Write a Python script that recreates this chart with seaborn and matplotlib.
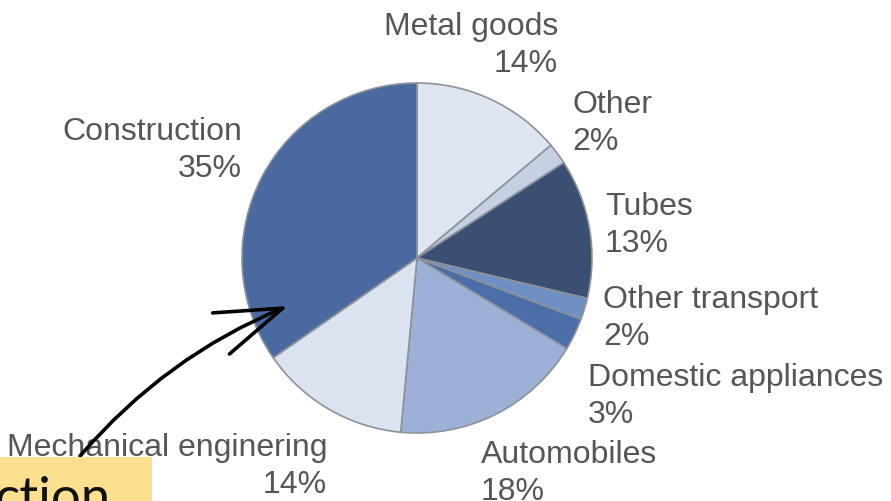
import matplotlib
matplotlib.use("Agg")
import matplotlib.pyplot as plt
import seaborn as sns
from matplotlib.patches import Rectangle

# ---------- data (clockwise from 12 o'clock) ----------
sectors = ["Metal goods", "Other", "Tubes", "Other transport",
           "Domestic appliances", "Automobiles", "Mechanical enginering",
           "Construction"]
shares = [14, 2, 13, 2, 3, 18, 14, 35]
slice_colors = ["#dfe5f0", "#c6d0e2", "#3b4f73", "#7090c4",
                "#4b6ea8", "#9db1d7", "#dce3f0", "#4a6a9f"]

sns.set_theme(style="white")
plt.rcParams["font.family"] = ["Liberation Sans", "DejaVu Sans"]

W, H = 891, 502
fig = plt.figure(figsize=(W / 100, H / 100), dpi=100)
ax = fig.add_axes([0, 0, 1, 1])

palette = sns.color_palette(slice_colors)
ax.pie(shares, colors=palette, startangle=90, counterclock=False,
       radius=1.0, wedgeprops=dict(edgecolor="#8c929c", linewidth=1.2))

# pie centre at pixel (417, 259), radius 175 px
cx, cy, r = 417, 259, 175
ax.set_xlim(-cx / r, (W - cx) / r)
ax.set_ylim(-(H - cy) / r, cy / r)
ax.axis("off")


def px(x, y):
    return (x - cx) / r, (cy - y) / r


# label anchors in pixels: (x, baseline of the % line, horizontal alignment)
label_layout = {
    "Metal goods": (558, 72, "right"),
    "Other": (572, 150, "left"),
    "Tubes": (605, 252, "left"),
    "Other transport": (603, 345, "left"),
    "Domestic appliances": (588, 423, "left"),
    "Automobiles": (481, 500, "left"),
    "Mechanical enginering": (327, 493, "right"),
    "Construction": (242, 177, "right"),
}

for name, val in zip(sectors, shares):
    x, y, ha = label_layout[name]
    tx, ty = px(x, y)
    ax.text(tx, ty, f"{name}\n{val}%", ha=ha, va="baseline",
            multialignment=ha, fontsize=23, color="#565656",
            linespacing=1.3)

# sticky note + hand drawn arrow
fig.patches.append(Rectangle((0, 0), 152 / W, (H - 458) / H,
                             transform=fig.transFigure,
                             facecolor="#fde08f", edgecolor="none", zorder=5))
fig.text(111 / W, (H - 514) / H, "ction", ha="right", va="baseline",
         fontsize=38, color="#111111", family=["Lato", "DejaVu Sans"],
         zorder=6)

ax.annotate("", xy=(288, H - 307), xycoords="figure pixels",
            xytext=(80, H - 457), textcoords="figure pixels",
            arrowprops=dict(arrowstyle="->,head_length=2.4,head_width=0.8",
                            mutation_scale=20, color="black", lw=2.6,
                            connectionstyle="arc3,rad=-0.12",
                            shrinkA=0, shrinkB=0),
            zorder=7)

fig.savefig("out.png", dpi=100, facecolor="white")
